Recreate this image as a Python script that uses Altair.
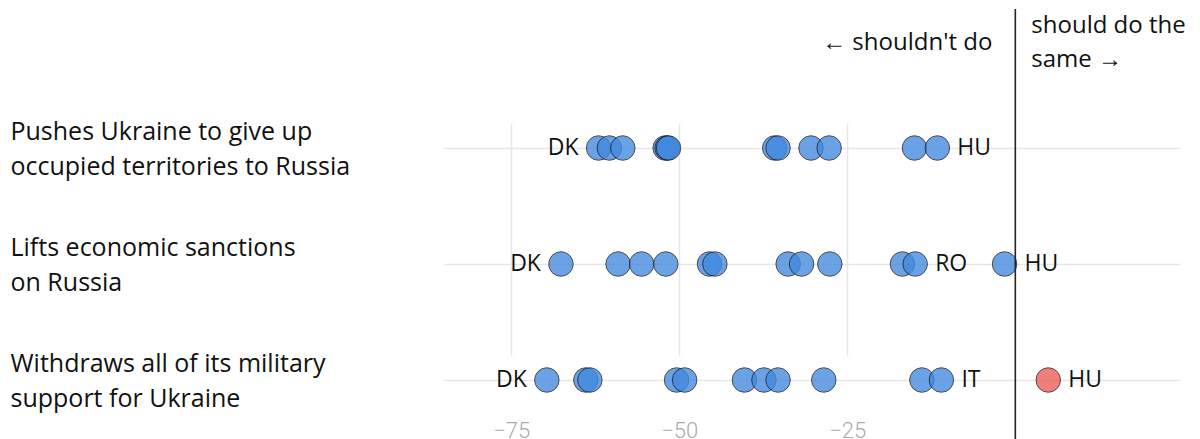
import altair as alt
import pandas as pd

# ---- data ----
questions = [
    "Pushes Ukraine to give up|occupied territories to Russia",
    "Lifts economic sanctions|on Russia",
    "Withdraws all of its military|support for Ukraine",
]
q1_values = [-62.0, -60.4, -58.4, -52.1, -51.8, -51.6, -35.8, -35.3, -30.4, -27.7, -15.0, -11.6]
q2_values = [-67.6, -59.1, -55.6, -52.0, -45.5, -44.7, -33.8, -31.8, -27.6, -16.8, -14.9, -1.6]
q3_values = [-69.7, -63.9, -63.3, -50.4, -49.2, -40.3, -37.4, -35.3, -28.5, -13.9, -11.0, 4.9]
all_values = [q1_values, q2_values, q3_values]

low_labels = ["DK", "DK", "DK"]                    # label of the lowest dot
high_labels = [["HU"], ["RO", "HU"], ["IT", "HU"]]  # labels of the highest dots (ascending)

tick_values = [-75, -50, -25]
header_left = ["← shouldn't do"]
header_right = ["should do the", "same →"]

# ---- tables ----
rows = []
for q, vals in zip(questions, all_values):
    for v in vals:
        rows.append({"question": q, "value": v})
points = pd.DataFrame(rows)

lab_low, lab_high = [], []
for q, vals, lo, his in zip(questions, all_values, low_labels, high_labels):
    s = sorted(vals)
    lab_low.append({"question": q, "value": s[0], "country": lo})
    for c, v in zip(his, s[len(s) - len(his):]):
        lab_high.append({"question": q, "value": v, "country": c})
lab_low = pd.DataFrame(lab_low)
lab_high = pd.DataFrame(lab_high)

FONT = "Open Sans"

x_enc = alt.X(
    "value:Q",
    scale=alt.Scale(domain=[-85, 24.5], nice=False, zero=False),
    axis=alt.Axis(
        values=tick_values, title=None, ticks=False, domain=False,
        grid=True, gridColor="#e6e6e6", gridWidth=1.5,
        labelColor="#aaaaaa", labelFontSize=22, labelFont="Roboto",
        labelFontWeight=300, labelPadding=7,
    ),
)
y_enc = alt.Y(
    "question:N",
    sort=questions,
    scale=alt.Scale(range=[58, 290], padding=0),
    axis=alt.Axis(
        title=None, ticks=False, domain=False, grid=True,
        gridColor="#e6e6e6", gridWidth=1.5,
        labelExpr="split(datum.value, '|')",
        labelAlign="left", labelBaseline="middle", labelPadding=434,
        labelOffset=-17,
        labelFontSize=25, labelFont=FONT, labelColor="#111111",
        labelLineHeight=35, labelLimit=0,
    ),
)

pts = alt.Chart(points).mark_circle(
    size=600, opacity=0.78, stroke="#1a1a1a", strokeWidth=1, strokeOpacity=1
).encode(
    x=x_enc,
    y=y_enc,
    color=alt.condition(alt.datum.value > 0, alt.value("#ee5a55"), alt.value("#4189de")),
)

low_txt = alt.Chart(lab_low).mark_text(
    align="right", baseline="middle", dx=-20, fontSize=23, font=FONT, color="#111111"
).encode(x="value:Q", y=alt.Y("question:N", sort=questions), text="country:N")

high_txt = alt.Chart(lab_high).mark_text(
    align="left", baseline="middle", dx=20, fontSize=23, font=FONT, color="#111111"
).encode(x="value:Q", y=alt.Y("question:N", sort=questions), text="country:N")

zero_rule = alt.Chart(pd.DataFrame({"zero": [0]})).mark_rule(
    color="#222222", strokeWidth=1.6
).encode(x="zero:Q", y=alt.value(-81), y2=alt.value(360))

hdr_left = alt.Chart(pd.DataFrame({"zero": [0], "t": header_left})).mark_text(
    align="right", baseline="middle", dx=-23, fontSize=24, font=FONT, color="#111111"
).encode(x="zero:Q", y=alt.value(-47), text="t:N")

hdr_right = alt.Chart(pd.DataFrame({"zero": [0], "t": ["|".join(header_right)]})).mark_text(
    align="left", baseline="middle", dx=16, fontSize=24, font=FONT, color="#111111",
    lineBreak="|", lineHeight=34,
).encode(x="zero:Q", y=alt.value(-64), text="t:N")

chart = alt.layer(pts, low_txt, high_txt, zero_rule, hdr_left, hdr_right).properties(
    width=736, height=323,
    autosize=alt.AutoSizeParams(type="none"),
    padding={"left": 436, "top": 82, "right": 12, "bottom": 26},
).configure_view(stroke=None)

chart.save("out.html", embed_options={"renderer": "svg", "actions": False})
